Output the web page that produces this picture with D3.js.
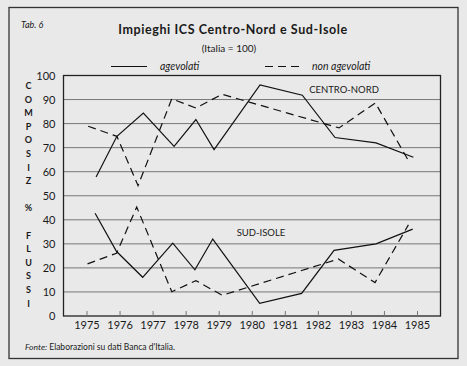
<!DOCTYPE html>
<html><head><meta charset="utf-8">
<script src="https://cdn.jsdelivr.net/npm/d3@7"></script>
<style>
html,body{margin:0;padding:0;background:#e9e9e9;}
svg{display:block;}
text{font-family:Lato,"DejaVu Sans",sans-serif;fill:#1a1a1a;}
</style></head>
<body>
<script>
// ---- data ----
const years = [1975,1976,1977,1978,1979,1980,1981,1982,1983,1984,1985];
const yTicks = [0,10,20,30,40,50,60,70,80,90,100];
// Centro-Nord, agevolati (solid)
const cnAgevX = [1975.29,1975.92,1976.72,1977.65,1978.31,1978.86,1980.25,1981.53,1982.52,1983.76,1984.89];
const cnAgevY = [57.8,74.7,84.4,70.5,81.7,69.2,96.1,91.8,74.2,72,66];
// Centro-Nord, non agevolati (dashed)
const cnNonX = [1975.05,1975.92,1976.56,1977.58,1978.31,1979.1,1982.64,1983.74,1984.77];
const cnNonY = [78.9,74.7,54.2,90.3,86.5,92.2,78.2,88.6,63.9];
// Sud-Isole, agevolati (solid)
const siAgevX = [1975.26,1975.91,1976.70,1977.61,1978.28,1978.82,1980.24,1981.51,1982.49,1983.76,1984.87];
const siAgevY = [42.7,26.8,16.1,30.3,19.2,32,5.3,9.4,27.3,30,36.1];
// Sud-Isole, non agevolati (dashed)
const siNonX = [1975.03,1975.91,1976.52,1977.58,1978.31,1979.11,1982.62,1983.73,1984.74];
const siNonY = [21.7,26.1,45.3,10.1,14.7,8.6,23.7,13.9,37.9];
const yLabelLetters = ["C","O","M","P","O","S","I","Z","","%","","F","L","U","S","S","I"];

const W=467,H=366;
const svg=d3.select("body").append("svg").attr("width",W).attr("height",H);
svg.append("rect").attr("width",W).attr("height",H).attr("fill","#e9e9e9");
// outer frame
svg.append("rect").attr("x",9).attr("y",7.5).attr("width",449).attr("height",351)
  .attr("fill","none").attr("stroke","#333").attr("stroke-width",1.3);

const L=63.5,R=440.5,T=75.5,B=316;
const x=d3.scaleLinear().domain([1975,1985]).range([86.5,417]);
const y=d3.scaleLinear().domain([0,100]).range([B,T]);

// gridlines
svg.append("g").selectAll("line").data(yTicks.filter(d=>d>0&&d<100)).join("line")
  .attr("x1",L).attr("x2",R).attr("y1",d=>y(d)).attr("y2",d=>y(d))
  .attr("stroke","#777").attr("stroke-width",1);
// plot box
svg.append("rect").attr("x",L).attr("y",T).attr("width",R-L).attr("height",B-T)
  .attr("fill","none").attr("stroke","#222").attr("stroke-width",1.3);

// y axis labels
const yAxis=d3.axisLeft(y).tickValues(yTicks).tickSize(0).tickPadding(8);
const gy=svg.append("g").attr("transform",`translate(${L},0)`).call(yAxis);
gy.select(".domain").remove();
gy.selectAll("text").attr("font-size",11).attr("font-family","Lato,sans-serif").attr("fill","#1a1a1a");

// x axis: ticks pointing up inside plot
const xAxis=d3.axisBottom(x).tickValues(years).tickFormat(d3.format("d")).tickSize(-5).tickPadding(5);
const gx=svg.append("g").attr("transform",`translate(0,${B})`).call(xAxis);
gx.select(".domain").remove();
gx.selectAll(".tick line").attr("stroke","#777").attr("stroke-width",1);
gx.selectAll("text").attr("font-size",11).attr("font-family","Lato,sans-serif").attr("fill","#1a1a1a");

// series
const line=d3.line().x(d=>x(d[0])).y(d=>y(d[1]));
const series=[
  {xs:cnAgevX,ys:cnAgevY,dash:null},
  {xs:cnNonX,ys:cnNonY,dash:"8,5"},
  {xs:siAgevX,ys:siAgevY,dash:null},
  {xs:siNonX,ys:siNonY,dash:"8,5"}
];
series.forEach(s=>{
  svg.append("path").datum(d3.zip(s.xs,s.ys)).attr("d",line)
   .attr("fill","none").attr("stroke","#111").attr("stroke-width",1.2)
   .attr("stroke-linejoin","miter")
   .attr("stroke-dasharray",s.dash);
});

// region labels
svg.append("text").attr("x",344).attr("y",92.5).attr("text-anchor","middle")
  .attr("font-size",9.5).text("CENTRO-NORD");
svg.append("text").attr("x",261).attr("y",236).attr("text-anchor","middle")
  .attr("font-size",9.5).text("SUD-ISOLE");

// titles
svg.append("text").attr("x",21).attr("y",28).attr("font-size",9).attr("font-style","italic").text("Tab. 6");
svg.append("text").attr("x",233).attr("y",34).attr("text-anchor","middle")
  .attr("font-size",12.5).attr("font-weight","bold").attr("letter-spacing",0.6)
  .text("Impieghi ICS Centro-Nord e Sud-Isole");
svg.append("text").attr("x",229).attr("y",52).attr("text-anchor","middle")
  .attr("font-size",10).text("(Italia = 100)");

// legend
svg.append("line").attr("x1",111).attr("x2",147).attr("y1",66.5).attr("y2",66.5).attr("stroke","#111").attr("stroke-width",1.2);
svg.append("text").attr("x",160).attr("y",70).attr("font-size",10.5).attr("font-style","italic").text("agevolati");
svg.append("line").attr("x1",265).attr("x2",302).attr("y1",66.5).attr("y2",66.5).attr("stroke","#111").attr("stroke-width",1.2).attr("stroke-dasharray","8,5");
svg.append("text").attr("x",312).attr("y",70).attr("font-size",10.5).attr("font-style","italic").text("non agevolati");

// vertical y title
svg.append("g").selectAll("text").data(yLabelLetters).join("text")
  .attr("x",28.5).attr("y",(d,i)=>89+i*13.6).attr("text-anchor","middle")
  .attr("font-size",9).attr("font-weight","bold").text(d=>d);

// source
const src=svg.append("text").attr("x",25).attr("y",350).attr("font-size",8.5);
src.append("tspan").attr("font-style","italic").text("Fonte:");
src.append("tspan").text(" Elaborazioni su dati Banca d'Italia.");
</script>
</body></html>
